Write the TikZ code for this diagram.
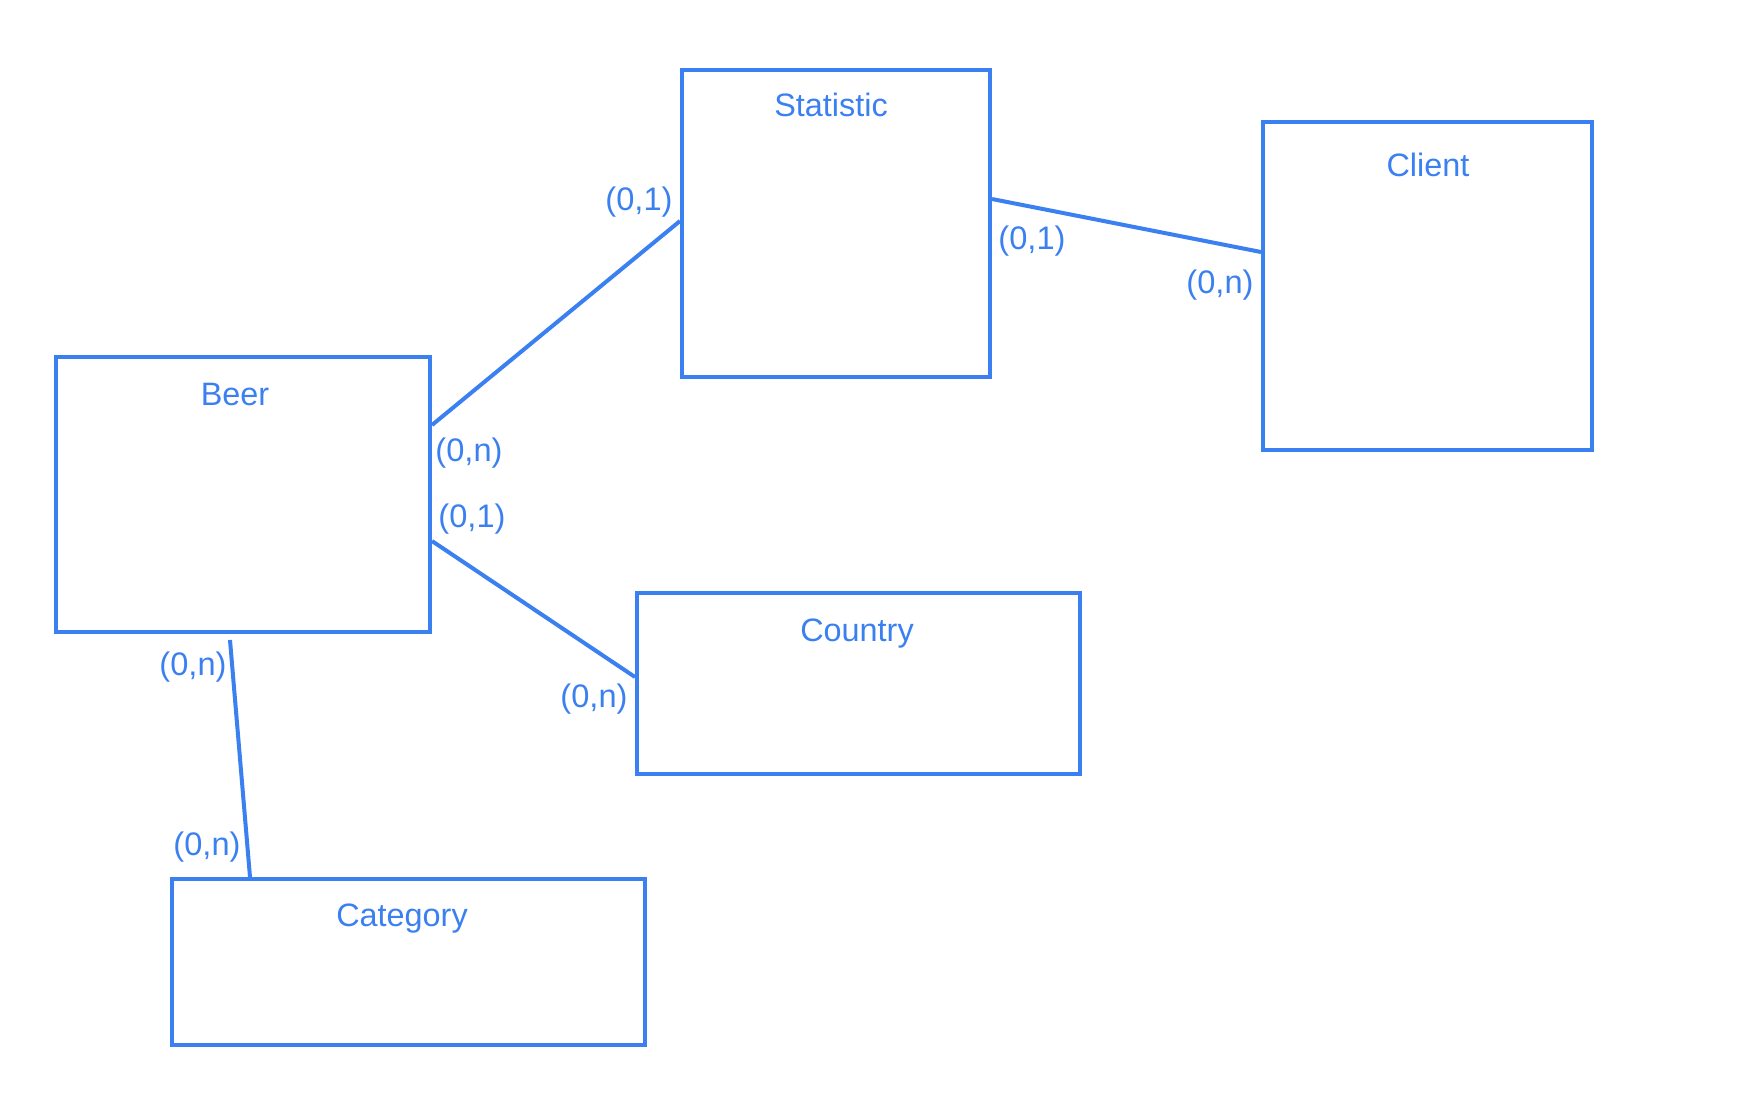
\documentclass[tikz,border=0pt]{standalone}
\usepackage{fontspec}
\setmainfont{Liberation Sans}
\definecolor{erblue}{RGB}{59,128,240}
\begin{document}
\begin{tikzpicture}[x=0.5pt,y=-0.5pt,
  ent/.style={draw=erblue, line width=2pt, rectangle, inner sep=0pt},
  ttl/.style={text=erblue, font=\fontsize{16.2}{19}\selectfont, inner sep=0pt},
  card/.style={text=erblue, font=\fontsize{16.3}{19}\selectfont, inner sep=0pt},
  conn/.style={draw=erblue, line width=2pt}]
\useasboundingbox (0,0) rectangle (1742,1116);
% entities
\node[ent, minimum width=187pt, minimum height=137.5pt] (beer) at (243,494.5) {};
\node[ent, minimum width=154pt, minimum height=153.5pt] (stat) at (836,223.5) {};
\node[ent, minimum width=164.5pt, minimum height=164pt] (client) at (1427.5,286) {};
\node[ent, minimum width=221.5pt, minimum height=90.5pt] (country) at (858.5,683.5) {};
\node[ent, minimum width=236.5pt, minimum height=83pt] (category) at (408.5,962) {};
% titles
\node[ttl] (tbeer) at (235,394) {Beer};
\node[ttl] (tstat) at (831,105) {Statistic};
\node[ttl] (tclient) at (1428,165) {Client};
\node[ttl] (tcountry) at (857,634) {Country};
\node[ttl] (tcategory) at (402,919) {Category};
% connectors
\coordinate (b1) at ([yshift=-35pt]beer.north east);
\coordinate (s1) at ([yshift=-76.5pt]stat.north west);
\draw[conn] (b1) -- (s1);
\coordinate (s2) at ([yshift=-65.5pt]stat.north east);
\coordinate (c1) at ([yshift=-66pt]client.north west);
\draw[conn] (s2) -- (c1);
\coordinate (b2) at ([yshift=-93pt]beer.north east);
\coordinate (k1) at ([yshift=-43pt]country.north west);
\draw[conn] (b2) -- (k1);
\coordinate (b3) at ([xshift=88pt,yshift=-3pt]beer.south west);
\coordinate (g1) at ([xshift=40pt]category.north west);
\draw[conn] (b3) -- (g1);
% cardinalities
\node[card] (l1) at (639,202) {(0,1)};
\node[card] (l2) at (469,453) {(0,n)};
\node[card] (l3) at (1032,241) {(0,1)};
\node[card] (l4) at (1220,285) {(0,n)};
\node[card] (l5) at (472,519) {(0,1)};
\node[card] (l6) at (594,699) {(0,n)};
\node[card] (l7) at (193,667) {(0,n)};
\node[card] (l8) at (207,847) {(0,n)};
\end{tikzpicture}
\end{document}
